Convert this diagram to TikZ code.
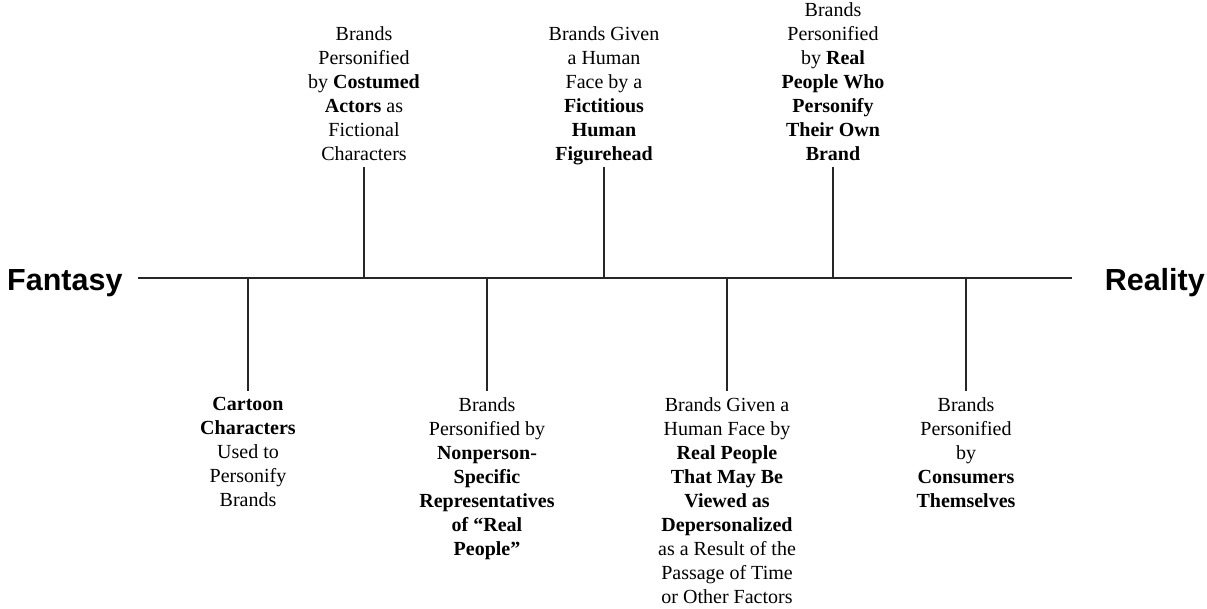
\documentclass[tikz,border=0pt]{standalone}
\usepackage{fontspec}
\setmainfont{Liberation Serif}
\newfontfamily\headfont{Liberation Sans}
\usetikzlibrary{positioning}
\begin{document}
\begin{tikzpicture}[x=1pt, y=-1pt]
\tikzstyle{lbl}=[align=center, inner sep=6pt, font=\fontsize{20}{24}\selectfont]
\tikzstyle{up}=[lbl, text depth=0pt]
\tikzstyle{pole}=[inner sep=0pt, font=\headfont\bfseries\fontsize{30.5}{36}\selectfont]
\tikzstyle{tick}=[line width=1.2pt, black!85]

\useasboundingbox (0,0) rectangle (1207,608);

\coordinate (L) at (138,278);
\coordinate (R) at (1072,278);
\node[pole, anchor=base west] (fan) at (7,290) {Fantasy};
\node[pole, anchor=base east] (rea) at (1205,290) {Reality};
\draw[line width=1.5pt, black!85] (L) -- (R);

% points on the line
\coordinate (u1) at (364,278);
\coordinate (u2) at (604,278);
\coordinate (u3) at (833,278);
\coordinate (d1) at (248,278);
\coordinate (d2) at (487,278);
\coordinate (d3) at (727,278);
\coordinate (d4) at (966,278);

\node[up, above=111pt of u1] (U1) {Brands\\Personified\\by \textbf{Costumed}\\\textbf{Actors} as\\Fictional\\Characters};
\node[up, above=111pt of u2] (U2) {Brands Given\\a Human\\Face by a\\\textbf{Fictitious}\\\textbf{Human}\\\textbf{Figurehead}};
\node[up, above=111pt of u3] (U3) {Brands\\Personified\\by \textbf{Real}\\\textbf{People Who}\\\textbf{Personify}\\\textbf{Their Own}\\\textbf{Brand}};

\node[lbl, below=113pt of d1] (D1) {\textbf{Cartoon}\\\textbf{Characters}\\Used to\\Personify\\Brands};
\node[lbl, below=113pt of d2] (D2) {Brands\\Personified by\\\textbf{Nonperson-}\\\textbf{Specific}\\\textbf{Representatives}\\\textbf{of “Real}\\\textbf{People”}};
\node[lbl, below=113pt of d3] (D3) {Brands Given a\\Human Face by\\\textbf{Real People}\\\textbf{That May Be}\\\textbf{Viewed as}\\\textbf{Depersonalized}\\as a Result of the\\Passage of Time\\or Other Factors};
\node[lbl, below=113pt of d4] (D4) {Brands\\Personified\\by\\\textbf{Consumers}\\\textbf{Themselves}};

\draw[tick] (u1) -- (U1);
\draw[tick] (u2) -- (U2);
\draw[tick] (u3) -- (U3);
\draw[tick] (d1) -- (D1);
\draw[tick] (d2) -- (D2);
\draw[tick] (d3) -- (D3);
\draw[tick] (d4) -- (D4);
\end{tikzpicture}
\end{document}
